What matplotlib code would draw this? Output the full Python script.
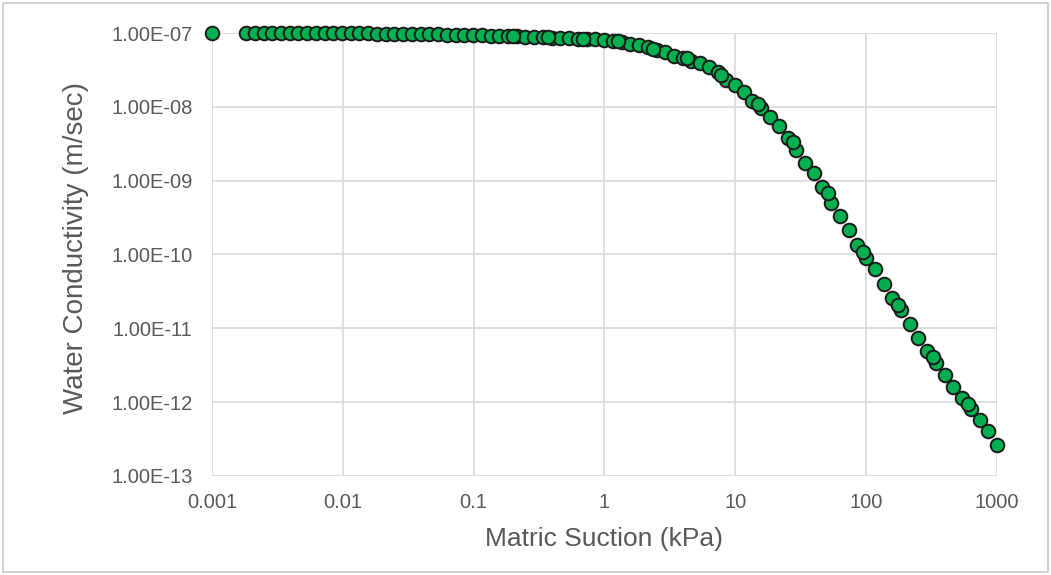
import matplotlib
matplotlib.use("Agg")
from matplotlib import pyplot as plt
from matplotlib import ticker, patches

# main series: matric suction (kPa) and water conductivity (m/sec)
suction = [
    0.001, 0.00182, 0.00212, 0.00248, 0.00288, 0.00337, 0.00393, 0.00458,
    0.00534, 0.00623, 0.00726, 0.00847, 0.00987, 0.0115, 0.0134, 0.0157,
    0.0183, 0.0213, 0.0248, 0.0290, 0.0338, 0.0394, 0.0459, 0.0535,
    0.0624, 0.0728, 0.0849, 0.0990, 0.115, 0.135, 0.157, 0.183,
    0.213, 0.249, 0.290, 0.339, 0.395, 0.460, 0.537, 0.626,
    0.730, 0.851, 0.993, 1.16, 1.35, 1.57, 1.84, 2.14,
    2.50, 2.91, 3.40, 3.96, 4.62, 5.38, 6.28, 7.32,
    8.54, 9.96, 11.6, 13.5, 15.8, 18.4, 21.5, 25.1,
    29.2, 34.1, 39.7, 46.3, 54.0, 63.0, 73.5, 85.7,
    100, 116, 136, 158, 185, 215, 251, 293,
    341, 398, 464, 542, 632, 736, 859, 1000,
]
conductivity = [
    1.00e-7, 1.00e-7, 1.00e-7, 9.99e-8, 9.99e-8, 9.98e-8, 9.98e-8, 9.97e-8,
    9.96e-8, 9.95e-8, 9.94e-8, 9.93e-8, 9.92e-8, 9.90e-8, 9.88e-8, 9.86e-8,
    9.84e-8, 9.81e-8, 9.78e-8, 9.75e-8, 9.71e-8, 9.67e-8, 9.63e-8, 9.58e-8,
    9.53e-8, 9.48e-8, 9.42e-8, 9.37e-8, 9.33e-8, 9.25e-8, 9.16e-8, 9.08e-8,
    8.99e-8, 8.94e-8, 8.86e-8, 8.75e-8, 8.67e-8, 8.59e-8, 8.48e-8, 8.40e-8,
    8.29e-8, 8.17e-8, 8.04e-8, 7.79e-8, 7.55e-8, 7.16e-8, 6.84e-8, 6.37e-8,
    5.89e-8, 5.45e-8, 4.88e-8, 4.58e-8, 4.24e-8, 3.98e-8, 3.51e-8, 2.96e-8,
    2.31e-8, 1.97e-8, 1.61e-8, 1.20e-8, 9.64e-9, 7.39e-9, 5.50e-9, 3.78e-9,
    2.64e-9, 1.73e-9, 1.27e-9, 8.18e-10, 4.97e-10, 3.31e-10, 2.14e-10, 1.34e-10,
    8.93e-11, 6.31e-11, 4.00e-11, 2.54e-11, 1.75e-11, 1.14e-11, 7.43e-12, 4.95e-12,
    3.43e-12, 2.32e-12, 1.60e-12, 1.14e-12, 8.04e-13, 5.65e-13, 4.01e-13, 2.60e-13,
]

# second set of measured points that sits on top of the main curve
suction_2 = [0.2, 0.37, 0.68, 1.26, 2.34, 4.3, 7.8, 14.8, 27.4, 50.7, 94, 174, 322, 596]
conductivity_2 = [9.05e-8, 8.73e-8, 8.35e-8, 7.72e-8, 6.16e-8, 4.58e-8, 2.70e-8,
                  1.09e-8, 3.33e-9, 6.79e-10, 1.09e-10, 2.09e-11, 4.14e-12, 9.4e-13]

x_ticks = [0.001, 0.01, 0.1, 1, 10, 100, 1000]
y_ticks = [1e-13, 1e-12, 1e-11, 1e-10, 1e-9, 1e-8, 1e-7]

plt.rcParams['font.family'] = ['Liberation Sans', 'DejaVu Sans']
text_col = '#595959'
grid_col = '#d9d9d9'

fig = plt.figure(figsize=(10.51, 5.75), dpi=100)
ax = fig.add_axes([0.2017, 0.1722, 0.7469, 0.7704])

mk = dict(linestyle='none', marker='o', markersize=9.8, markerfacecolor='#00b050',
          markeredgecolor='#1a1a1a', markeredgewidth=1.4, clip_on=False, zorder=3)
ax.plot(suction, conductivity, **mk)
ax.plot(suction_2, conductivity_2, **mk)

ax.set_xscale('log')
ax.set_yscale('log')
ax.set_xlim(0.001, 1000)
ax.set_ylim(1e-13, 1e-7)
ax.xaxis.set_major_locator(ticker.FixedLocator(x_ticks))
ax.yaxis.set_major_locator(ticker.FixedLocator(y_ticks))
ax.xaxis.set_minor_locator(ticker.NullLocator())
ax.yaxis.set_minor_locator(ticker.NullLocator())
ax.xaxis.set_major_formatter(ticker.FuncFormatter(lambda v, p: f"{v:g}"))
ax.yaxis.set_major_formatter(ticker.FuncFormatter(lambda v, p: f"{v:.2E}"))

for s in ax.spines.values():
    s.set_visible(False)
ax.grid(True, color=grid_col, linewidth=1.2, zorder=0)
ax.set_axisbelow(True)
ax.tick_params(length=0, labelsize=14.5, labelcolor=text_col)
ax.tick_params(axis='y', pad=14)
ax.tick_params(axis='x', pad=12)

ax.set_xlabel('Matric Suction (kPa)', fontsize=19, color=text_col)
ax.set_ylabel('Water Conductivity (m/sec)', fontsize=20, color=text_col)
ax.xaxis.set_label_coords(0.5, -0.115)
ax.yaxis.set_label_coords(-0.157, 0.515)

# light border round the whole chart area
fig.patches.append(patches.Rectangle((3 / 1051, 3 / 575), 1045 / 1051, 569 / 575,
                                     transform=fig.transFigure, fill=False,
                                     edgecolor='#c8c8c8', linewidth=1.2))

fig.savefig('out.png', dpi=100)
